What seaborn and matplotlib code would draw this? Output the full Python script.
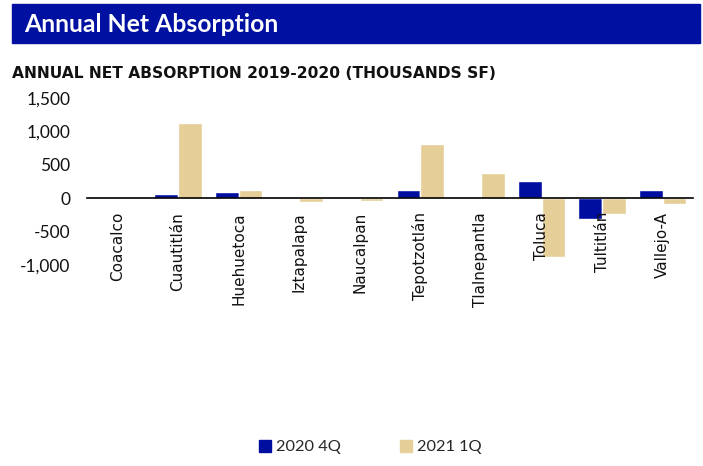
import matplotlib
matplotlib.use("Agg")
import matplotlib.pyplot as plt
import matplotlib.patches as mpatches
import matplotlib.ticker as mticker
import seaborn as sns
import pandas as pd

categories = ["Coacalco", "Cuautitlán", "Huehuetoca", "Iztapalapa", "Naucalpan",
              "Tepotzotlán", "Tlalnepantla", "Toluca", "Tultitlán", "Vallejo-A"]
series_names = ["2020 4Q", "2021 1Q"]
q4_2020 = [0, 60, 90, 0, 0, 130, 25, 265, -305, 125]
q1_2021 = [0, 1127, 120, -55, -35, 805, 380, -875, -230, -80]
y_ticks = [-1000, -500, 0, 500, 1000, 1500]

colors = ["#000EA0", "#E6CE98"]

df = pd.DataFrame({
    "city": categories * 2,
    "series": [series_names[0]] * len(categories) + [series_names[1]] * len(categories),
    "value": q4_2020 + q1_2021,
})

sns.set_theme(style="white")
plt.rcParams["font.family"] = ["Lato", "DejaVu Sans"]

fig = plt.figure(figsize=(7.03, 4.66), dpi=100)
ax = fig.add_axes([0.1238, 0.4313, 0.862, 0.3584])

sns.barplot(data=df, x="city", y="value", hue="series", palette=colors,
            width=0.78, ax=ax, legend=False, saturation=1)

ax.set_ylim(-1000, 1500)
ax.set_xlim(-0.5, len(categories) - 0.5)
ax.set_yticks(y_ticks)
ax.yaxis.set_major_formatter(mticker.FuncFormatter(lambda v, p: f"{int(v):,}"))
ax.tick_params(axis="y", labelsize=12.5, length=0, pad=12, colors="#111111")
ax.tick_params(axis="x", length=0, pad=10, labelrotation=90, labelsize=11,
               labelcolor="#111111")
ax.set_xlabel("")
ax.set_ylabel("")
for s in ["top", "right", "left"]:
    ax.spines[s].set_visible(False)
ax.spines["bottom"].set_position(("data", 0))
ax.spines["bottom"].set_color("black")
ax.spines["bottom"].set_linewidth(1.2)
ax.grid(False)
ax.set_axisbelow(False)

# Title bar
fig.patches.append(mpatches.Rectangle((12 / 703, 1 - 43 / 466), 688 / 703, 39 / 466,
                                      transform=fig.transFigure, color="#0010A0", zorder=0))
fig.text(24 / 703, 1 - 24 / 466, "Annual Net Absorption", color="white",
         fontsize=17.8, fontweight="bold", va="center", ha="left")
fig.text(12 / 703, 1 - 74 / 466, "ANNUAL NET ABSORPTION 2019-2020 (THOUSANDS SF)",
         color="#111111", fontsize=11.2, fontweight="bold", va="center", ha="left",
         family=["DejaVu Sans"])

handles = [mpatches.Patch(color=c, label=n) for c, n in zip(colors, series_names)]
fig.legend(handles=handles, loc="center", bbox_to_anchor=(0.527, 1 - 447 / 466),
           ncol=2, frameon=False, fontsize=11.8, handlelength=0.75, handleheight=0.75,
           handletextpad=0.3, columnspacing=3.6)

fig.canvas.draw()
for lbl in ax.get_xticklabels():
    lbl.set_fontfamily("DejaVu Sans")
    lbl.set_rotation(90)
    lbl.set_va("top")
    lbl.set_ha("center")

fig.savefig("out.png", dpi=100)
